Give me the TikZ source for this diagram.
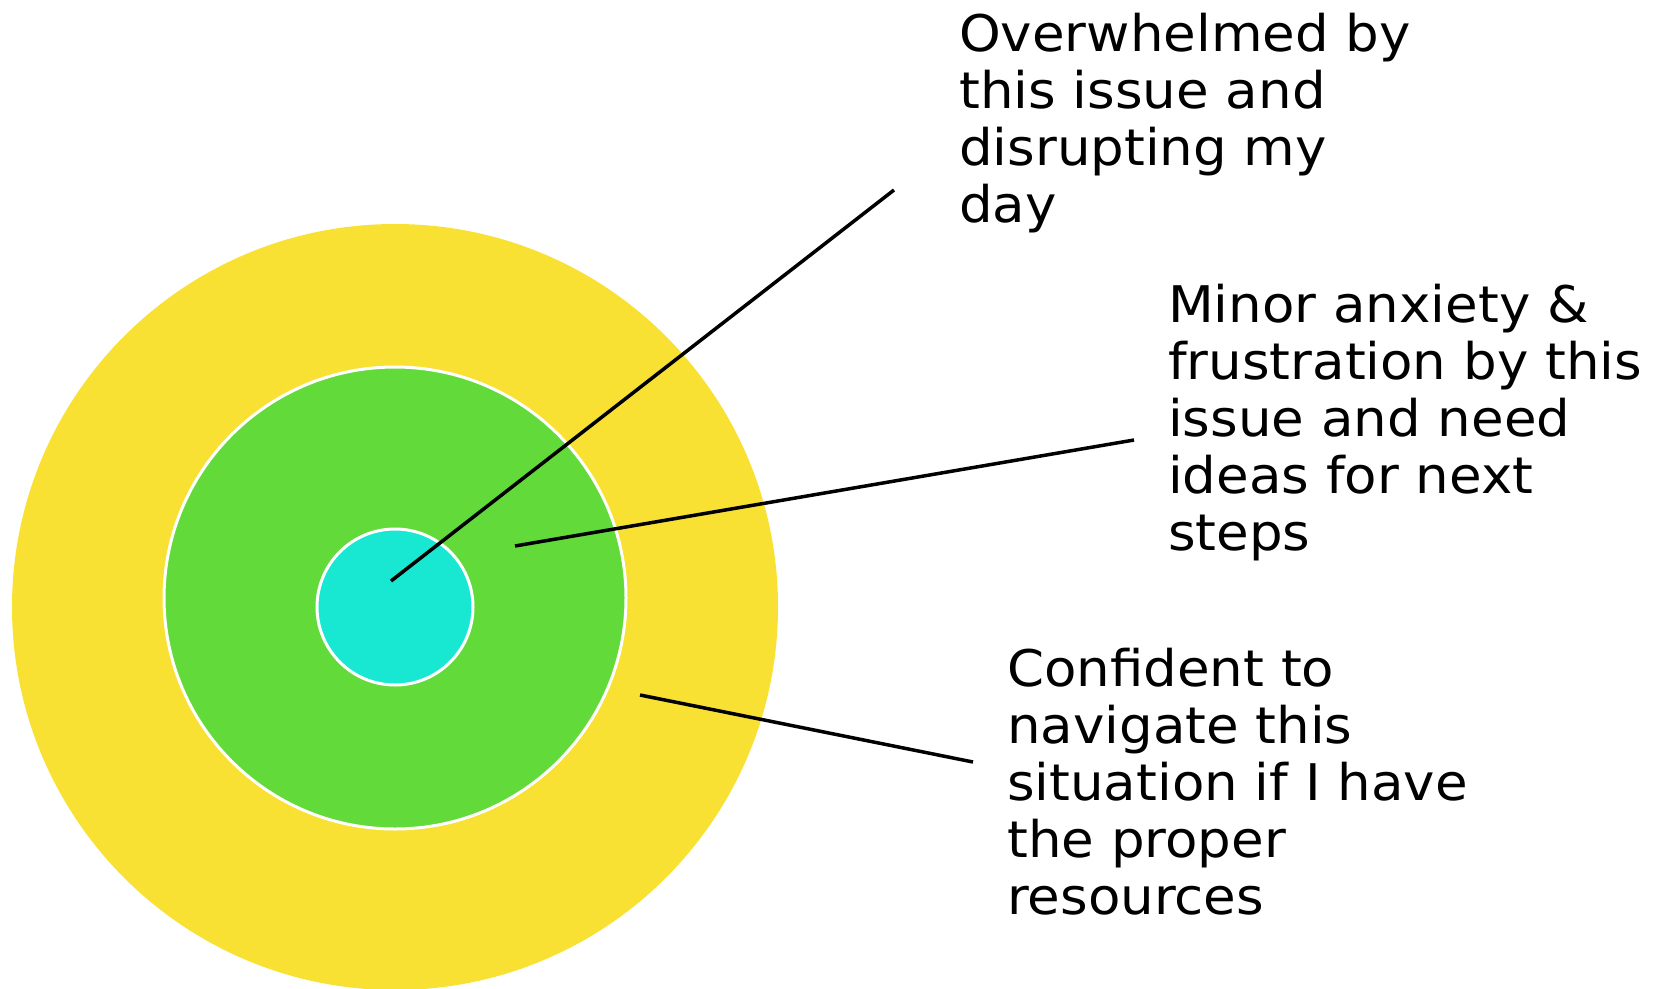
\documentclass[tikz,border=0pt]{standalone}
\usepackage{fontspec}
\setmainfont{DejaVu Sans}[FakeStretch=1.05]
\definecolor{outerring}{HTML}{F8E132}
\definecolor{middlering}{HTML}{62DA3A}
\definecolor{innerring}{HTML}{18E8D1}
\begin{document}
\begin{tikzpicture}[x=1pt,y=-1pt,
  ring/.style={circle,inner sep=0pt,draw=white,line width=3pt},
  leader/.style={draw=black,line width=3.5pt},
  label/.style={anchor=base west,inner sep=0pt,align=left,
    font=\fontsize{50.5}{57}\selectfont}]
  \useasboundingbox (0,0) rectangle (1669,988);
  \clip (0,0) rectangle (1669,988);
  % concentric zones
  \node[circle,inner sep=0pt,fill=outerring,minimum size=766pt] (outer) at (395,607) {};
  \node[ring,fill=middlering,minimum size=462pt] (middle) at (395,598) {};
  \node[ring,fill=innerring,minimum size=156pt] (inner) at (395,607) {};
  % captions (anchored at the baseline of their last line)
  \node[label] (tIn) at (959,222) {Overwhelmed by\\this issue and\\disrupting my\\day};
  \node[label] (tMid) at (1168,550) {Minor anxiety \&\\frustration by this\\issue and need\\ideas for next\\steps};
  \node[label] (tOut) at (1007,914) {Confident to\\navigate this\\situation if I have\\the proper\\resources};
  % leader line end points
  \coordinate (pIn) at (391,581);
  \coordinate (qIn) at (894,190);
  \coordinate (pMid) at (515,546);
  \coordinate (qMid) at (1134,440);
  \coordinate (pOut) at (640,695);
  \coordinate (qOut) at (973,762);
  \draw[leader] (pIn) -- (qIn);
  \draw[leader] (pMid) -- (qMid);
  \draw[leader] (pOut) -- (qOut);
\end{tikzpicture}
\end{document}
